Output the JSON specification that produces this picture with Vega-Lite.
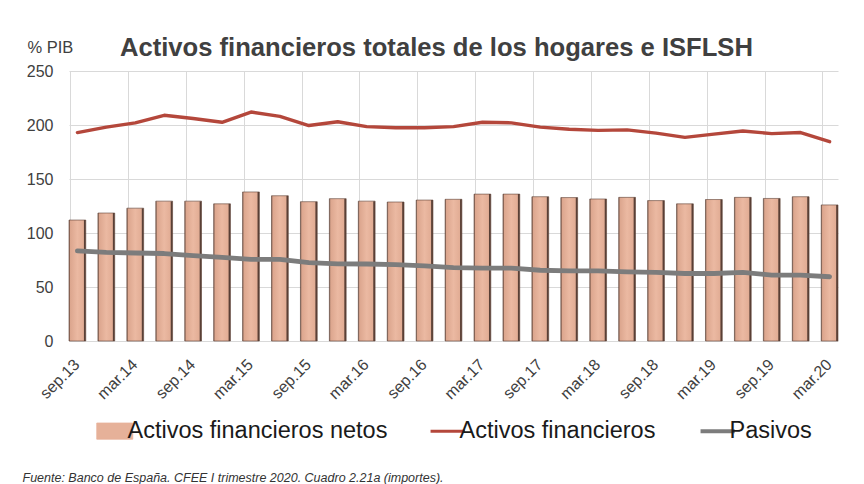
{
  "$schema": "https://vega.github.io/schema/vega-lite/v6.json",
  "width": 769,
  "height": 270,
  "autosize": {"type": "none"},
  "padding": {"left": 69, "top": 71, "right": 26, "bottom": 143},
  "background": "white",
  "config": {
    "font": "Liberation Sans",
    "view": {"stroke": null},
    "axis": {"gridColor": "#d9d9d9", "gridWidth": 1, "domain": false, "ticks": false, "labelColor": "#404040", "labelFont": "Liberation Sans"}
  },
  "title": {
    "text": "Activos financieros totales de los hogares e ISFLSH",
    "anchor": "start",
    "frame": "group",
    "dx": 51,
    "dy": 43,
    "offset": 0,
    "baseline": "alphabetic",
    "fontSize": 25.6,
    "fontWeight": "bold",
    "color": "#404040",
    "font": "Liberation Sans"
  },
  "data": {
    "values": [
      {"q": "sep.13", "serie": "Activos financieros netos", "valor": 112},
      {"q": "dic.13", "serie": "Activos financieros netos", "valor": 118.5},
      {"q": "mar.14", "serie": "Activos financieros netos", "valor": 123},
      {"q": "jun.14", "serie": "Activos financieros netos", "valor": 129.5},
      {"q": "sep.14", "serie": "Activos financieros netos", "valor": 129.5},
      {"q": "dic.14", "serie": "Activos financieros netos", "valor": 127},
      {"q": "mar.15", "serie": "Activos financieros netos", "valor": 138},
      {"q": "jun.15", "serie": "Activos financieros netos", "valor": 134.5},
      {"q": "sep.15", "serie": "Activos financieros netos", "valor": 129},
      {"q": "dic.15", "serie": "Activos financieros netos", "valor": 131.8},
      {"q": "mar.16", "serie": "Activos financieros netos", "valor": 129.5},
      {"q": "jun.16", "serie": "Activos financieros netos", "valor": 128.7},
      {"q": "sep.16", "serie": "Activos financieros netos", "valor": 130.5},
      {"q": "dic.16", "serie": "Activos financieros netos", "valor": 131.2},
      {"q": "mar.17", "serie": "Activos financieros netos", "valor": 136},
      {"q": "jun.17", "serie": "Activos financieros netos", "valor": 136},
      {"q": "sep.17", "serie": "Activos financieros netos", "valor": 133.6},
      {"q": "dic.17", "serie": "Activos financieros netos", "valor": 132.8},
      {"q": "mar.18", "serie": "Activos financieros netos", "valor": 131.5},
      {"q": "jun.18", "serie": "Activos financieros netos", "valor": 133},
      {"q": "sep.18", "serie": "Activos financieros netos", "valor": 130},
      {"q": "dic.18", "serie": "Activos financieros netos", "valor": 127},
      {"q": "mar.19", "serie": "Activos financieros netos", "valor": 131},
      {"q": "jun.19", "serie": "Activos financieros netos", "valor": 133},
      {"q": "sep.19", "serie": "Activos financieros netos", "valor": 132},
      {"q": "dic.19", "serie": "Activos financieros netos", "valor": 133.6},
      {"q": "mar.20", "serie": "Activos financieros netos", "valor": 126},
      {"q": "sep.13", "serie": "Activos financieros", "valor": 193},
      {"q": "dic.13", "serie": "Activos financieros", "valor": 198},
      {"q": "mar.14", "serie": "Activos financieros", "valor": 202},
      {"q": "jun.14", "serie": "Activos financieros", "valor": 209},
      {"q": "sep.14", "serie": "Activos financieros", "valor": 206},
      {"q": "dic.14", "serie": "Activos financieros", "valor": 202.5},
      {"q": "mar.15", "serie": "Activos financieros", "valor": 212},
      {"q": "jun.15", "serie": "Activos financieros", "valor": 208},
      {"q": "sep.15", "serie": "Activos financieros", "valor": 199.5},
      {"q": "dic.15", "serie": "Activos financieros", "valor": 203},
      {"q": "mar.16", "serie": "Activos financieros", "valor": 198.5},
      {"q": "jun.16", "serie": "Activos financieros", "valor": 197.5},
      {"q": "sep.16", "serie": "Activos financieros", "valor": 197.5},
      {"q": "dic.16", "serie": "Activos financieros", "valor": 198.5},
      {"q": "mar.17", "serie": "Activos financieros", "valor": 202.5},
      {"q": "jun.17", "serie": "Activos financieros", "valor": 202},
      {"q": "sep.17", "serie": "Activos financieros", "valor": 198},
      {"q": "dic.17", "serie": "Activos financieros", "valor": 196},
      {"q": "mar.18", "serie": "Activos financieros", "valor": 195},
      {"q": "jun.18", "serie": "Activos financieros", "valor": 195.5},
      {"q": "sep.18", "serie": "Activos financieros", "valor": 192.5},
      {"q": "dic.18", "serie": "Activos financieros", "valor": 188.5},
      {"q": "mar.19", "serie": "Activos financieros", "valor": 191.5},
      {"q": "jun.19", "serie": "Activos financieros", "valor": 194.5},
      {"q": "sep.19", "serie": "Activos financieros", "valor": 192},
      {"q": "dic.19", "serie": "Activos financieros", "valor": 193},
      {"q": "mar.20", "serie": "Activos financieros", "valor": 184.5},
      {"q": "sep.13", "serie": "Pasivos", "valor": 83.5},
      {"q": "dic.13", "serie": "Pasivos", "valor": 82},
      {"q": "mar.14", "serie": "Pasivos", "valor": 81.5},
      {"q": "jun.14", "serie": "Pasivos", "valor": 81},
      {"q": "sep.14", "serie": "Pasivos", "valor": 79},
      {"q": "dic.14", "serie": "Pasivos", "valor": 77.5},
      {"q": "mar.15", "serie": "Pasivos", "valor": 75.5},
      {"q": "jun.15", "serie": "Pasivos", "valor": 75.5},
      {"q": "sep.15", "serie": "Pasivos", "valor": 72.5},
      {"q": "dic.15", "serie": "Pasivos", "valor": 71.5},
      {"q": "mar.16", "serie": "Pasivos", "valor": 71.3},
      {"q": "jun.16", "serie": "Pasivos", "valor": 70.7},
      {"q": "sep.16", "serie": "Pasivos", "valor": 69.5},
      {"q": "dic.16", "serie": "Pasivos", "valor": 68},
      {"q": "mar.17", "serie": "Pasivos", "valor": 67.5},
      {"q": "jun.17", "serie": "Pasivos", "valor": 67.5},
      {"q": "sep.17", "serie": "Pasivos", "valor": 65.5},
      {"q": "dic.17", "serie": "Pasivos", "valor": 65},
      {"q": "mar.18", "serie": "Pasivos", "valor": 65},
      {"q": "jun.18", "serie": "Pasivos", "valor": 64},
      {"q": "sep.18", "serie": "Pasivos", "valor": 63.5},
      {"q": "dic.18", "serie": "Pasivos", "valor": 62.5},
      {"q": "mar.19", "serie": "Pasivos", "valor": 62.5},
      {"q": "jun.19", "serie": "Pasivos", "valor": 63.5},
      {"q": "sep.19", "serie": "Pasivos", "valor": 61},
      {"q": "dic.19", "serie": "Pasivos", "valor": 61},
      {"q": "mar.20", "serie": "Pasivos", "valor": 59.5}
    ]
  },
  "encoding": {
    "x": {
      "field": "q",
      "type": "nominal",
      "scale": {
        "domain": ["sep.13","dic.13","mar.14","jun.14","sep.14","dic.14","mar.15","jun.15","sep.15","dic.15","mar.16","jun.16","sep.16","dic.16","mar.17","jun.17","sep.17","dic.17","mar.18","jun.18","sep.18","dic.18","mar.19","jun.19","sep.19","dic.19","mar.20"],
        "paddingInner": 0.42,
        "paddingOuter": 0
      },
      "axis": {
        "values": ["sep.13","mar.14","sep.14","mar.15","sep.15","mar.16","sep.16","mar.17","sep.17","mar.18","sep.18","mar.19","sep.19","mar.20"],
        "bandPosition": 0.1,
        "grid": true,
        "labelAngle": -45,
        "labelAlign": "right",
        "labelBaseline": "top",
        "labelFontSize": 16,
        "labelPadding": 15,
        "labelOffset": -6,
        "title": "Fuente: Banco de España. CFEE I trimestre 2020. Cuadro 2.21a (importes).",
        "titleFontStyle": "italic",
        "titleFontWeight": "normal",
        "titleFontSize": 12.5,
        "titleColor": "#333333",
        "titleAlign": "left",
        "titleAnchor": "start",
        "titleBaseline": "alphabetic",
        "titleX": -47,
        "titleY": 140
      }
    },
    "y": {
      "field": "valor",
      "type": "quantitative",
      "scale": {"domain": [0, 250]},
      "axis": {
        "values": [0, 50, 100, 150, 200, 250],
        "labelFontSize": 16,
        "labelPadding": 16,
        "title": "% PIB",
        "titleAngle": 0,
        "titleAlign": "left",
        "titleBaseline": "alphabetic",
        "titleX": -42,
        "titleY": -19,
        "titleFontSize": 16.5,
        "titleFontWeight": "normal",
        "titleColor": "#404040"
      }
    }
  },
  "layer": [
    {
      "transform": [{"filter": "datum.serie === 'Activos financieros netos'"}],
      "mark": {
        "type": "bar",
        "stroke": "#5e4236",
        "strokeWidth": 0.6,
        "fill": {
          "gradient": "linear", "x1": 0, "x2": 1, "y1": 0, "y2": 0,
          "stops": [
            {"offset": 0, "color": "#6e5044"},
            {"offset": 0.08, "color": "#dca68e"},
            {"offset": 0.5, "color": "#ebb9a2"},
            {"offset": 0.86, "color": "#e2ad95"},
            {"offset": 0.92, "color": "#5a4036"},
            {"offset": 1, "color": "#5a4036"}
          ]
        }
      }
    },
    {
      "transform": [{"filter": "datum.serie !== 'Activos financieros netos'"}],
      "mark": {"type": "line", "strokeCap": "round", "strokeJoin": "round"},
      "encoding": {
        "color": {
          "field": "serie",
          "type": "nominal",
          "scale": {
            "domain": ["Activos financieros netos", "Activos financieros", "Pasivos"],
            "range": ["#e8b39b", "#b4473b", "#7c7c7c"]
          },
          "legend": {
            "orient": "none",
            "legendX": 34,
            "legendY": 348,
            "direction": "horizontal",
            "title": null,
            "padding": 0,
            "symbolSize": 1296,
            "labelFontSize": 23.5,
            "labelLimit": 400,
            "labelFont": "Liberation Sans",
            "labelColor": "#1a1a1a",
            "labelOffset": 1,
            "columnPadding": 36,
            "encode": {
              "symbols": {
                "update": {
                  "shape": {"signal": "datum.value === 'Activos financieros netos' ? 'M-1,-0.45H1V0.45H-1Z' : 'M-0.9,0H1'"},
                  "fill": {"signal": "datum.value === 'Activos financieros netos' ? '#e6b199' : 'transparent'"},
                  "stroke": {"signal": "datum.value === 'Activos financieros netos' ? '#9a7564' : (datum.value === 'Pasivos' ? '#7c7c7c' : '#b4473b')"},
                  "strokeWidth": {"signal": "datum.value === 'Activos financieros netos' ? 0.8 : (datum.value === 'Pasivos' ? 4 : 3)"},
                  "opacity": {"value": 1}
                }
              }
            }
          }
        },
        "strokeWidth": {
          "field": "serie",
          "type": "nominal",
          "scale": {"domain": ["Activos financieros", "Pasivos"], "range": [3.4, 4.8]},
          "legend": null
        }
      }
    }
  ]
}
